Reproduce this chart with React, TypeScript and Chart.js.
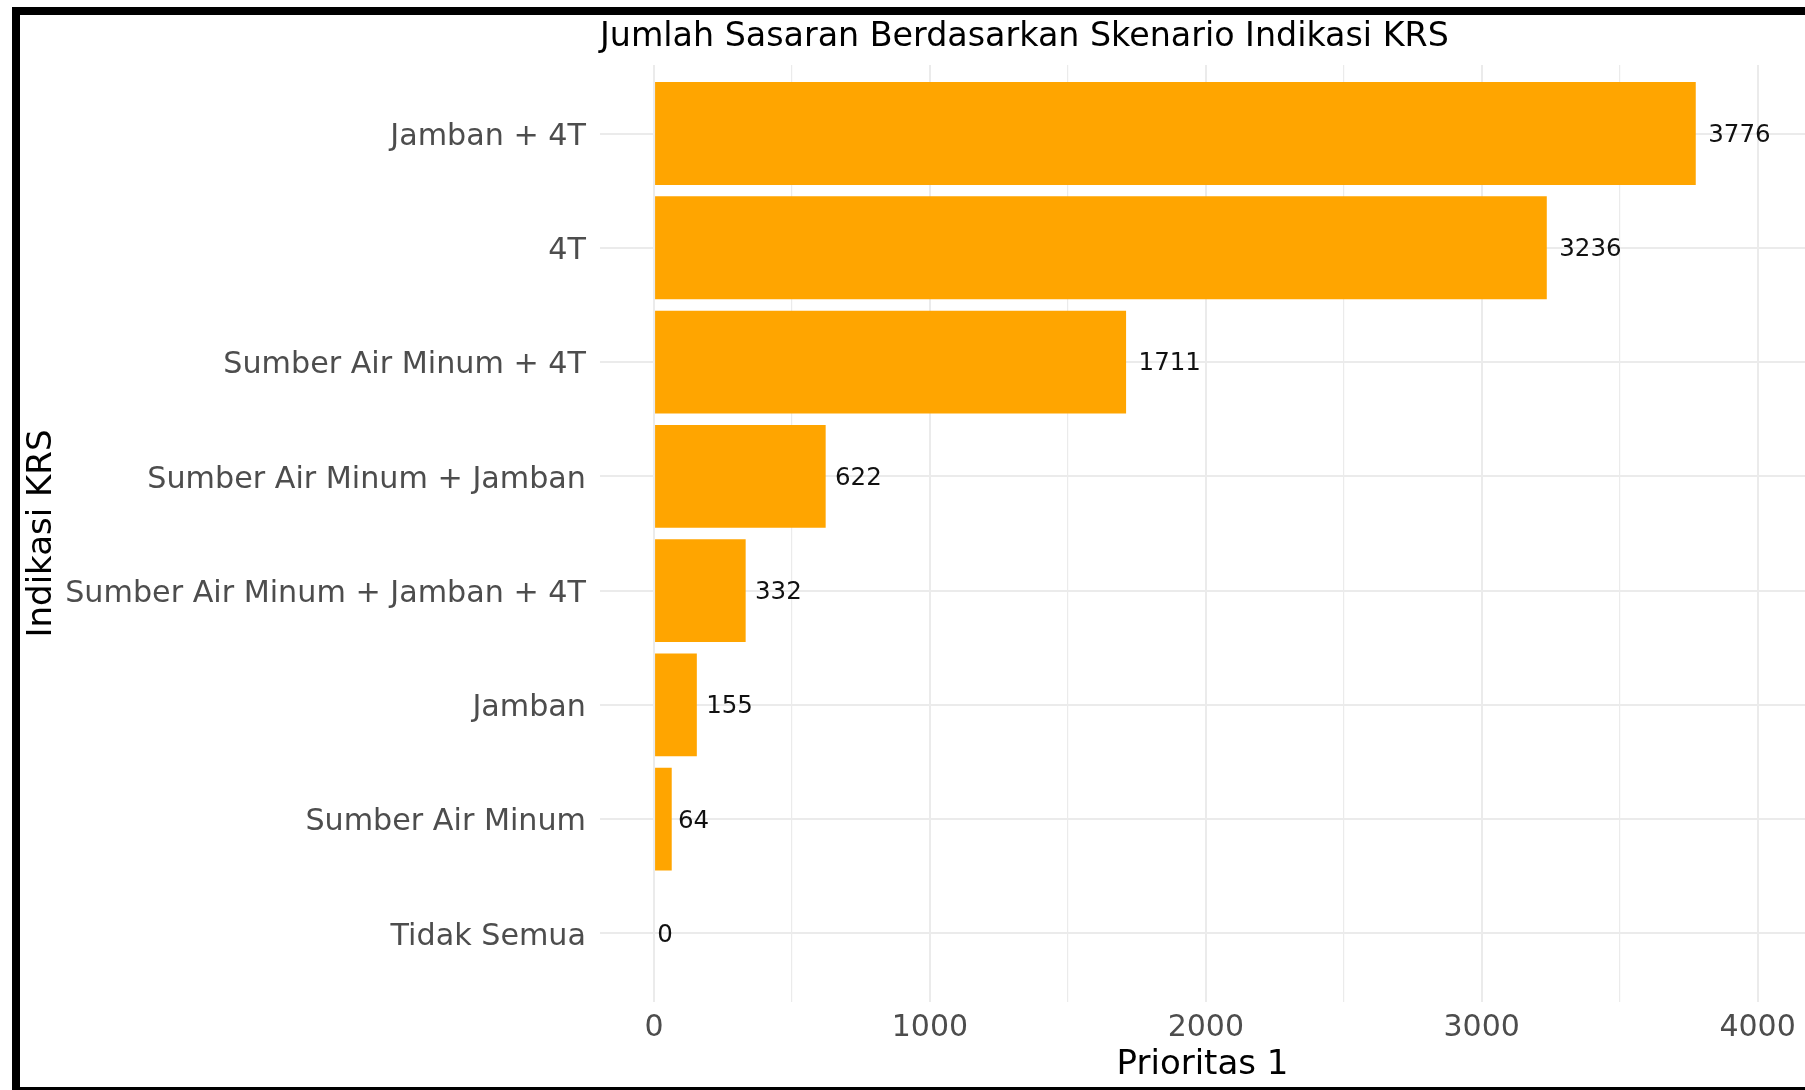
import React, { useEffect, useRef } from "react";
import { Chart, registerables } from "chart.js";

Chart.register(...registerables);

const CATEGORIES = [
  "Jamban + 4T",
  "4T",
  "Sumber Air Minum + 4T",
  "Sumber Air Minum + Jamban",
  "Sumber Air Minum + Jamban + 4T",
  "Jamban",
  "Sumber Air Minum",
  "Tidak Semua",
];
const VALUES = [3776, 3236, 1711, 622, 332, 155, 64, 0];
const X_GRID_TICKS = [0, 500, 1000, 1500, 2000, 2500, 3000, 3500, 4000];
const X_LABEL_TICKS = [0, 1000, 2000, 3000, 4000];
const TITLE = "Jumlah Sasaran Berdasarkan Skenario Indikasi KRS";
const X_TITLE = "Prioritas 1";
const Y_TITLE = "Indikasi KRS";

const FONT = "'DejaVu Sans', sans-serif";
const W = 1805;
const H = 1090;

const framePlugin = {
  id: "frame",
  beforeDraw(chart: any) {
    const ctx = chart.ctx;
    ctx.save();
    ctx.fillStyle = "#ffffff";
    ctx.fillRect(0, 0, W, H);
    ctx.fillStyle = "#000000";
    ctx.fillRect(12, 7, W - 12, H - 7);
    ctx.fillStyle = "#ffffff";
    ctx.fillRect(20, 15, W - 20, 1087 - 15);
    ctx.restore();
  },
};

const valueLabelPlugin = {
  id: "valueLabels",
  afterDatasetsDraw(chart: any) {
    const ctx = chart.ctx;
    const meta = chart.getDatasetMeta(0);
    ctx.save();
    ctx.font = `24.5px ${FONT}`;
    ctx.fillStyle = "#111111";
    ctx.textAlign = "left";
    ctx.textBaseline = "middle";
    meta.data.forEach((bar: any, i: number) => {
      const txt = String(VALUES[i]);
      const w = ctx.measureText(txt).width;
      ctx.fillText(txt, bar.x + 0.2 * w, bar.y + 2);
    });
    ctx.restore();
  },
};

export default function App() {
  const ref = useRef<HTMLCanvasElement | null>(null);

  useEffect(() => {
    document.body.style.margin = "0";
    document.body.style.overflow = "hidden";
    Chart.defaults.font.family = FONT;
    const canvas = ref.current!;
    const chart = new Chart(canvas, {
      type: "bar",
      data: {
        datasets: [
          {
            data: CATEGORIES.map((_, i) => ({ x: VALUES[i], y: i })),
            backgroundColor: "#FFA500",
            borderWidth: 0,
            barPercentage: 0.9,
            categoryPercentage: 1,
          },
        ],
      },
      options: {
        indexAxis: "y",
        responsive: false,
        animation: false,
        devicePixelRatio: 1,
        layout: { padding: 0 },
        plugins: {
          legend: { display: false },
          tooltip: { enabled: false },
          title: {
            display: true,
            text: TITLE,
            align: "start",
            fullSize: false,
            color: "#000000",
            font: { size: 33.3, weight: "normal", family: FONT },
            padding: { top: 17, bottom: 8 },
          },
        },
        scales: {
          x: {
            type: "linear",
            position: "bottom",
            min: -196,
            max: 4172,
            afterBuildTicks: (axis: any) => {
              axis.ticks = X_GRID_TICKS.map((v) => ({ value: v }));
            },
            afterFit: (scale: any) => {
              scale.height = 88;
            },
            ticks: {
              autoSkip: false,
              maxRotation: 0,
              padding: 8,
              color: "#4D4D4D",
              font: { size: 30, family: FONT },
              callback: (v: any) => (X_LABEL_TICKS.includes(Number(v)) ? String(v) : ""),
            },
            grid: {
              drawTicks: false,
              color: "#EBEBEB",
              lineWidth: (c: any) =>
                c.tick && X_LABEL_TICKS.includes(c.tick.value) ? 2 : 1.2,
            },
            border: { display: false },
            title: {
              display: true,
              text: X_TITLE,
              color: "#000000",
              font: { size: 34, family: FONT },
              padding: { top: 0, bottom: 4.6 },
            },
          },
          y: {
            type: "linear",
            reverse: true,
            offset: false,
            min: -0.6,
            max: CATEGORIES.length - 1 + 0.6,
            afterBuildTicks: (axis: any) => {
              axis.ticks = CATEGORIES.map((_, i) => ({ value: i }));
            },
            afterFit: (scale: any) => {
              scale.width = 600;
            },
            ticks: {
              autoSkip: false,
              padding: 14,
              labelOffset: 3.5,
              color: "#4D4D4D",
              font: { size: 30.2, family: FONT },
              callback: (v: any) => CATEGORIES[Number(v)] ?? "",
            },
            grid: {
              offset: false,
              drawTicks: false,
              color: "#EBEBEB",
              lineWidth: 2,
            },
            border: { display: false },
            title: {
              display: true,
              text: Y_TITLE,
              color: "#000000",
              font: { size: 34, family: FONT },
              padding: { top: 21.6, bottom: 0 },
            },
          },
        },
      },
      plugins: [framePlugin, valueLabelPlugin],
    } as any);
    return () => chart.destroy();
  }, []);

  return (
    <div style={{ width: W, height: H, position: "relative" }}>
      <canvas ref={ref} width={W} height={H} style={{ display: "block", width: W, height: H }} />
    </div>
  );
}
